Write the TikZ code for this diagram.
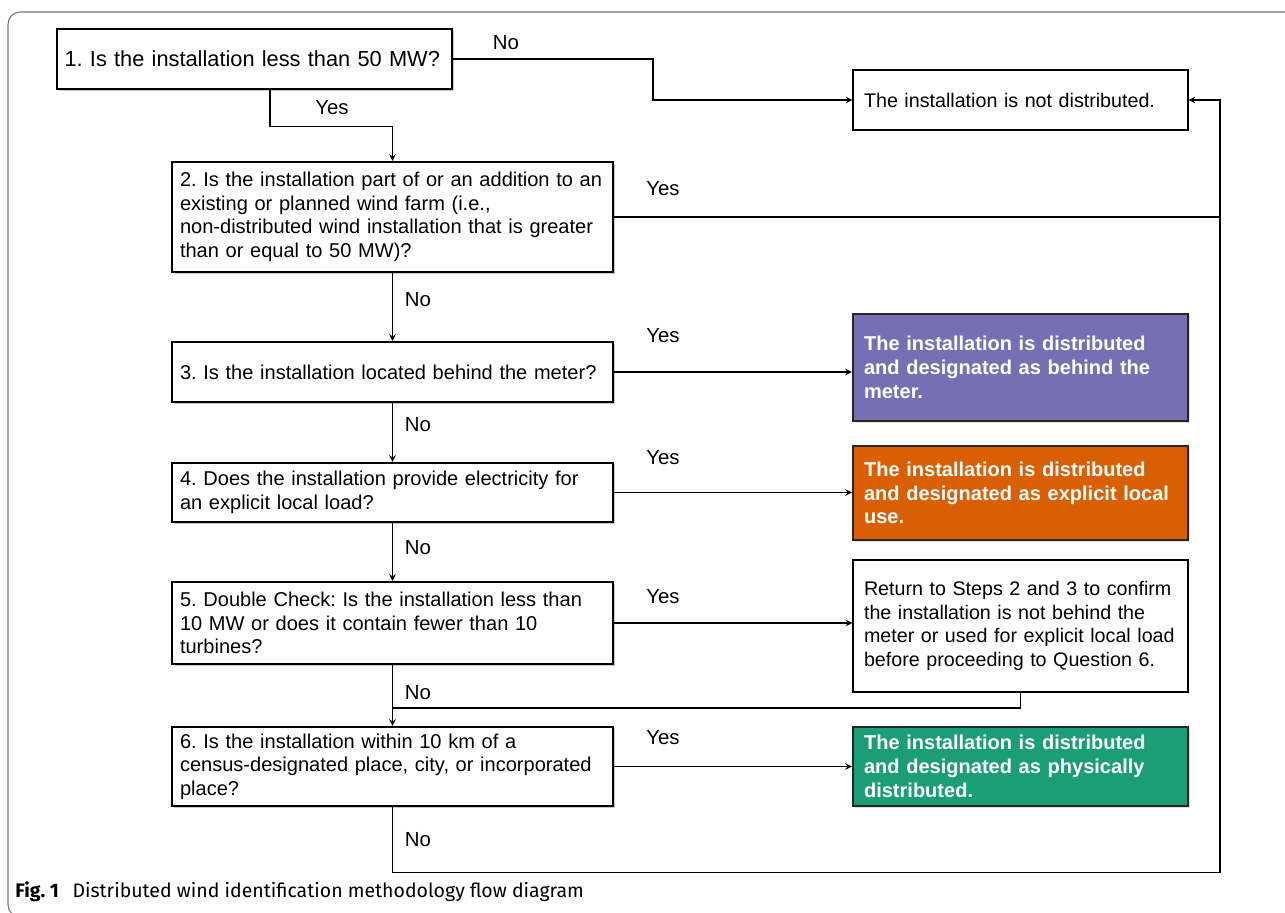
\documentclass[tikz,border=0pt]{standalone}
\usepackage{fontspec}
\setmainfont{Liberation Sans}
\newfontfamily\capfont{Fira Sans}
\usetikzlibrary{shadows}
\frenchspacing

\definecolor{behindpurple}{HTML}{7570B3}
\definecolor{localorange}{HTML}{D95F02}
\definecolor{physgreen}{HTML}{1B9E77}

\tikzset{
  question/.style={draw, line width=1.3pt, fill=white, align=left,
    text width=8.5cm, inner xsep=0.16cm, minimum width=8.82cm,
    font=\fontsize{11.4}{13.4}\selectfont,
    drop shadow={shadow xshift=1pt, shadow yshift=-1pt, fill=black!35, opacity=0.6}},
  outcome/.style={draw, line width=0.7pt, fill=white, align=left,
    text width=6.26cm, inner xsep=0.22cm, minimum width=6.7cm,
    font=\fontsize{11.2}{13.5}\selectfont},
  colbox/.style={outcome, draw=black!85, line width=1.3pt, fill=#1, text=white,
    font=\fontsize{11.4}{13.5}\selectfont\bfseries,
    drop shadow={shadow xshift=1pt, shadow yshift=-1pt, fill=black!25, opacity=0.5}},
  answer/.style={font=\fontsize{11.6}{13}\selectfont, inner sep=0pt},
  link/.style={line width=0.7pt}
}

\begin{document}
\begin{tikzpicture}[>=stealth, x=0.02cm, y=-0.02cm]
    \useasboundingbox (0,0) rectangle (1285,913);
    \clip (0,0) rectangle (1285,913);

    % Frame
    \draw[black!55, line width=0.6pt, rounded corners=7pt] (8,12) rectangle (1300,917);

    % Questions
    \node[question, text width=7.6cm, inner xsep=0.15cm, minimum width=7.9cm, minimum height=60*0.02cm,
          font=\fontsize{12.4}{14}\selectfont] (q1) at (254.5,59)
        {1. Is the installation less than 50 MW?};
    \node[question, minimum height=110*0.02cm] (q2) at (392.5,217)
        {2. Is the installation part of or an addition to an\\
         existing or planned wind farm (i.e.,\\
         non-distributed wind installation that is greater\\
         than or equal to 50 MW)?};
    \node[question, minimum height=60*0.02cm] (q3) at (392.5,372)
        {3. Is the installation located behind the meter?};
    \node[question, minimum height=59*0.02cm] (q4) at (392.5,492.5)
        {4. Does the installation provide electricity for\\
         an explicit local load?};
    \node[question, minimum height=82*0.02cm] (q5) at (392.5,623)
        {5. Double Check: Is the installation less than\\
         10 MW or does it contain fewer than 10\\
         turbines?};
    \node[question, minimum height=79*0.02cm] (q6) at (392.5,766.5)
        {6. Is the installation within 10 km of a\\
         census-designated place, city, or incorporated\\
         place?};

    % Outcomes
    \node[outcome, minimum height=60*0.02cm] (notdist) at (1020.5,100)
        {The installation is not distributed.};
    \node[colbox=behindpurple, minimum height=107*0.02cm] (behind) at (1020.5,367.5)
        {The installation is distributed\\ and designated as behind the\\ meter.};
    \node[colbox=localorange, minimum height=94*0.02cm] (local) at (1020.5,493)
        {The installation is distributed\\ and designated as explicit local\\ use.};
    \node[outcome, minimum height=132*0.02cm] (recheck) at (1020.5,626)
        {Return to Steps 2 and 3 to confirm\\
         the installation is not behind the\\
         meter or used for explicit local load\\
         before proceeding to Question 6.};
    \node[colbox=physgreen, minimum height=79*0.02cm] (physical) at (1020.5,766.5)
        {The installation is distributed\\ and designated as physically\\ distributed.};

    % Helper points
    \coordinate (rail) at (1220,217);
    \coordinate (merge) at (392.5,708);

    % Connectors
    \draw[link, ->] (q1.east) -- ++(200,0) |- (notdist.west);
    \draw[link, ->] ([xshift=15.5*0.02cm]q1.south) -- ++(0,36) -| (q2.north);
    \draw[link] (q2.east) -- (rail);
    \draw[link, ->] (q2.south) -- (q3.north);
    \draw[link, ->] (q3.east) -- (q3.east -| behind.west);
    \draw[link, ->] (q3.south) -- (q4.north);
    \draw[link, ->] (q4.east) -- (q4.east -| local.west);
    \draw[link, ->] (q4.south) -- (q5.north);
    \draw[link, ->] (q5.east) -- (q5.east -| recheck.west);
    \draw[link] (recheck.south) |- (merge);
    \draw[link, ->] (q5.south) -- (q6.north);
    \draw[link, ->] (q6.east) -- (q6.east -| physical.west);
    \draw[link, ->] (q6.south) -- ++(0,65) -| (rail) |- (notdist.east);

    % Labels
    \node[answer] (no1) at (506,43) {No};
    \node[answer] (yes1) at (332,108) {Yes};
    \node[answer] (yes2) at (663,189) {Yes};
    \node[answer] (no2) at (418,300) {No};
    \node[answer] (yes3) at (663,336) {Yes};
    \node[answer] (no3) at (418,425) {No};
    \node[answer] (yes4) at (663,458) {Yes};
    \node[answer] (no4) at (418,548) {No};
    \node[answer] (yes5) at (663,597) {Yes};
    \node[answer] (no5) at (418,693) {No};
    \node[answer] (yes6) at (663,738) {Yes};
    \node[answer] (no6) at (418,840) {No};

    % Caption
    \node[anchor=west, inner sep=0pt, font=\capfont\fontsize{11.1}{13}\selectfont] (caption) at (15,892)
        {\textbf{Fig. 1}\hspace{0.7em}Distributed wind identification methodology flow diagram};
\end{tikzpicture}
\end{document}
